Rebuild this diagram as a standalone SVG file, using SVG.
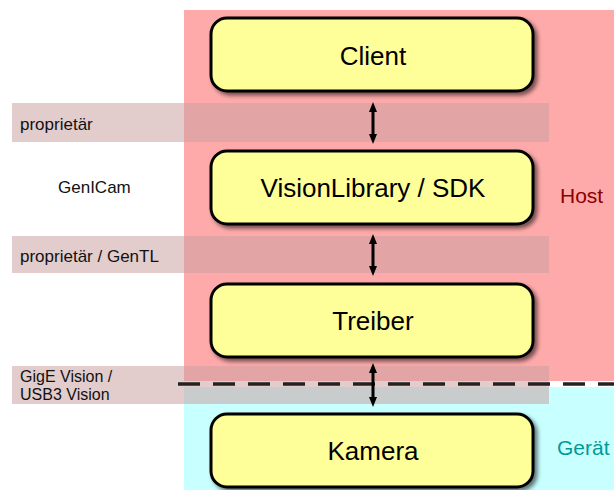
<svg xmlns="http://www.w3.org/2000/svg" width="614" height="490" viewBox="0 0 614 490">
  <defs>
    <filter id="shadow" x="-10%" y="-20%" width="130%" height="150%">
      <feDropShadow dx="3" dy="3" stdDeviation="2" flood-color="#000" flood-opacity="0.55"/>
    </filter>
    <marker id="head" viewBox="0 0 10 10" refX="2" refY="5" markerWidth="10" markerHeight="10" markerUnits="userSpaceOnUse" orient="auto-start-reverse">
      <path d="M0,1 L10,5 L0,9 Z" fill="#000"/>
    </marker>
    <style>
      text { font-family: "Liberation Sans", Arial, sans-serif; }
      .box { fill: #ffff99; stroke: #000; stroke-width: 3; }
      .node-label { font-size: 26px; fill: #000; text-anchor: middle; }
      .band { fill: rgb(200,158,158); fill-opacity: 0.53; }
      .side { font-size: 17px; fill: #111; }
      .side-small { font-size: 16px; fill: #111; }
      .link { stroke: #000; stroke-width: 3; fill: none; marker-start: url(#head); marker-end: url(#head); }
    </style>
  </defs>

  <!-- zones -->
  <g id="zones">
    <rect x="184" y="10" width="430" height="371" fill="#ffaaaa"/>
    <rect x="184" y="387" width="430" height="103" fill="#c8ffff"/>
    <text x="560" y="203" font-size="21" fill="#8b0000">Host</text>
    <text x="557" y="455" font-size="21" fill="#009999">Gerät</text>
  </g>

  <!-- interface layers -->
  <g id="layers">
    <rect class="band" x="12" y="103" width="537" height="39"/>
    <rect class="band" x="12" y="236" width="537" height="37"/>
    <rect class="band" x="12" y="366" width="537" height="38"/>
    <text class="side" x="20" y="130">proprietär</text>
    <text class="side" x="58" y="193">GenICam</text>
    <text class="side" x="20" y="262">proprietär / GenTL</text>
    <text class="side-small" x="20" y="382">GigE Vision /</text>
    <text class="side-small" x="20" y="400">USB3 Vision</text>
  </g>

  <!-- host / device boundary -->
  <line x1="178" y1="384" x2="614" y2="384" stroke="#222" stroke-width="3.5" stroke-dasharray="22 13"/>

  <g id="client">
    <rect class="box" x="211" y="18" width="322" height="73" rx="16" filter="url(#shadow)"/>
    <text class="node-label" x="373" y="65">Client</text>
  </g>
  <g id="visionlibrary">
    <rect class="box" x="211" y="151" width="322" height="73" rx="16" filter="url(#shadow)"/>
    <text class="node-label" x="373" y="197">VisionLibrary / SDK</text>
  </g>
  <g id="treiber">
    <rect class="box" x="211" y="284" width="322" height="73" rx="16" filter="url(#shadow)"/>
    <text class="node-label" x="373" y="330">Treiber</text>
  </g>
  <g id="kamera">
    <rect class="box" x="211" y="414" width="322" height="73" rx="16" filter="url(#shadow)"/>
    <text class="node-label" x="373" y="460">Kamera</text>
  </g>

  <!-- connectors -->
  <g id="connectors">
    <line class="link" x1="373" y1="110" x2="373" y2="136"/>
    <line class="link" x1="373" y1="242" x2="373" y2="268"/>
    <line class="link" x1="373" y1="371" x2="373" y2="399"/>
  </g>
</svg>
